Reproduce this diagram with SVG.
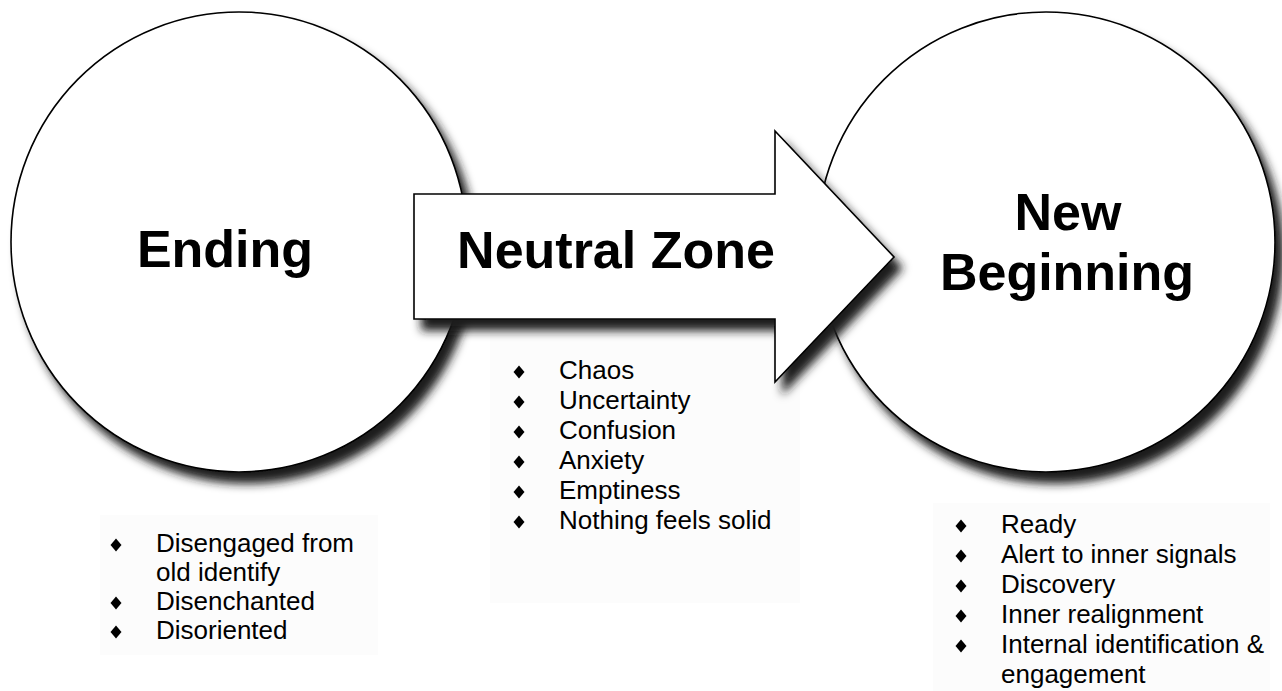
<svg xmlns="http://www.w3.org/2000/svg" width="1282" height="691" viewBox="0 0 1282 691">
<style>
.shape{fill:#fff;stroke:#000;stroke-width:1.6}
.title{font-family:"Liberation Sans",Arial,sans-serif;font-weight:bold;font-size:52px;fill:#000;text-anchor:middle}
.item{font-family:"Liberation Sans",Arial,sans-serif;font-size:26px;fill:#000}
.faint{fill:#fcfcfc}
</style>
<defs>
<filter id="sh" x="-10%" y="-10%" width="130%" height="130%">
<feDropShadow dx="8" dy="11" stdDeviation="5" flood-color="#1c1c1c" flood-opacity="1"/>
</filter>
<polygon id="dia" points="0,-6.5 5.5,0 0,6.5 -5.5,0" fill="#000"/>
</defs>
<rect width="1282" height="691" fill="#fff"/>
<g id="backgrounds">
<rect class="faint" x="490" y="330" width="310" height="273"/>
<rect class="faint" x="100" y="515" width="278" height="140"/>
<rect class="faint" x="933" y="503" width="337" height="188"/>
</g>
<g id="ending">
<ellipse class="shape" cx="239" cy="242" rx="228" ry="230" filter="url(#sh)"/>
<text class="title" x="225" y="267">Ending</text>
</g>
<g id="new-beginning">
<ellipse class="shape" cx="1046" cy="242" rx="229" ry="230" filter="url(#sh)"/>
<text class="title" x="1068" y="230">New</text>
<text class="title" x="1067" y="290">Beginning</text>
</g>
<g id="connectors">
<g id="neutral-zone">
<polygon class="shape" points="414,194 775,194 775,131 894,257 775,382 775,319 414,319" filter="url(#sh)"/>
<text class="title" x="616" y="268">Neutral Zone</text>
</g>
</g>
<g id="ending-list">
<use href="#dia" x="116" y="545"/>
<use href="#dia" x="116" y="603"/>
<use href="#dia" x="116" y="632"/>
<text class="item" x="156" y="552">Disengaged from</text>
<text class="item" x="156" y="581">old identify</text>
<text class="item" x="156" y="610">Disenchanted</text>
<text class="item" x="156" y="639">Disoriented</text>
</g>
<g id="neutral-list">
<use href="#dia" x="519" y="372"/>
<use href="#dia" x="519" y="402"/>
<use href="#dia" x="519" y="432"/>
<use href="#dia" x="519" y="462"/>
<use href="#dia" x="519" y="492"/>
<use href="#dia" x="519" y="522"/>
<text class="item" x="559" y="379">Chaos</text>
<text class="item" x="559" y="409">Uncertainty</text>
<text class="item" x="559" y="439">Confusion</text>
<text class="item" x="559" y="469">Anxiety</text>
<text class="item" x="559" y="499">Emptiness</text>
<text class="item" x="559" y="529">Nothing feels solid</text>
</g>
<g id="beginning-list">
<use href="#dia" x="961" y="526"/>
<use href="#dia" x="961" y="556"/>
<use href="#dia" x="961" y="586"/>
<use href="#dia" x="961" y="616"/>
<use href="#dia" x="961" y="646"/>
<text class="item" x="1001" y="533">Ready</text>
<text class="item" x="1001" y="563">Alert to inner signals</text>
<text class="item" x="1001" y="593">Discovery</text>
<text class="item" x="1001" y="623">Inner realignment</text>
<text class="item" x="1001" y="653">Internal identification &amp;</text>
<text class="item" x="1001" y="683">engagement</text>
</g>
</svg>
